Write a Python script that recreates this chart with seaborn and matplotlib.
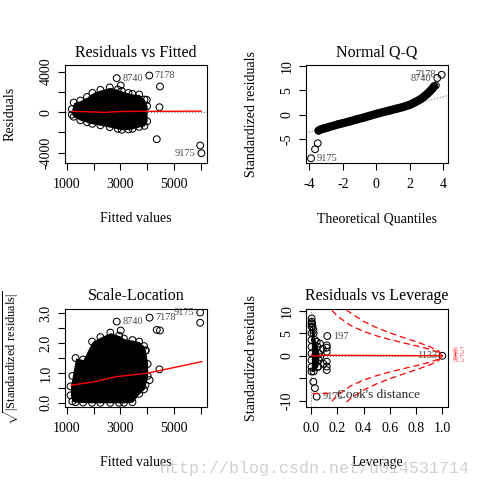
"""
Diagnostic plots of a linear model (lm), redrawn with seaborn.
"""

import matplotlib
matplotlib.use("Agg")
import matplotlib.pyplot as plt
from matplotlib.lines import Line2D
import seaborn as sns

# --- Residuals vs Fitted: dense core (envelope) + single points ---
rf_env_x = [1180, 1250, 1500, 1750, 1950, 2250, 2600, 2900, 3050, 3300, 3450, 3700, 3900, 4000]
rf_env_hi = [300, 950, 1150, 1500, 1900, 2200, 2450, 2250, 2100, 1900, 1800, 1750, 1250, 600]
rf_env_lo = [-250, -450, -800, -1000, -1150, -1300, -1480, -1650, -1740, -1700, -1640, -1450, -1350, -900]
rf_out_x = [2860, 4080, 4480, 3010, 4360, 4460, 3985, 5985, 6030]
rf_out_y = [3360, 3620, 2540, 2640, -2670, 490, 1220, -3290, -4050]
rf_fit_x = [1180, 1600, 2000, 2400, 2800, 3200, 3600, 4000, 6030]
rf_fit_y = [80, 50, 20, -20, 40, 70, 80, 80, 100]
rf_ids = {"8740": (2860, 3360, "r"), "7178": (4080, 3620, "r"), "9175": (6030, -4050, "l")}

# --- Normal Q-Q ---
qq_x = [-3.45, -3.3, -3.1, -2.9, -2.6, -2.3, -2.0, -1.6, -1.2, -0.8, -0.4, 0.0,
        0.4, 0.8, 1.2, 1.6, 2.0, 2.3, 2.6, 2.85, 3.05, 3.2, 3.35, 3.45]
qq_y = [-3.2, -2.95, -2.75, -2.55, -2.25, -1.95, -1.7, -1.35, -0.95, -0.6, -0.2, 0.2,
        0.55, 0.9, 1.25, 1.6, 2.05, 2.55, 3.1, 3.7, 4.3, 4.8, 5.35, 5.8]
qq_out_x = [3.55, 3.64, 3.9, -3.9, -3.66, -3.5]
qq_out_y = [6.0, 7.5, 8.16, -8.84, -7.0, -5.78]
qq_slope, qq_intercept = 0.9, 0.1
qq_ids = {"8740": (3.64, 7.5, "l"), "7178": (3.9, 8.16, "l"), "9175": (-3.9, -8.84, "r")}

# --- Scale-Location ---
sl_env_x = [1130, 1200, 1320, 1600, 1940, 2250, 2620, 2950, 3130, 3450, 3700, 3880, 3940, 4020]
sl_env_hi = [0.55, 0.9, 1.5, 1.45, 2.05, 2.2, 2.35, 2.25, 2.15, 2.1, 2.05, 1.9, 1.75, 1.3]
sl_env_lo = [0.25, 0.05, 0.02, 0.01, 0.0, 0.0, 0.0, 0.0, 0.0, 0.02, 0.3, 0.45, 0.6, 0.9]
sl_out_x = [2860, 4090, 3010, 4360, 4480, 5985, 5985, 4460, 4090, 3950]
sl_out_y = [2.72, 2.85, 2.42, 2.44, 2.42, 3.02, 2.68, 1.12, 0.76, 1.75]
sl_fit_x = [1150, 2000, 2800, 4000, 6050]
sl_fit_y = [0.59, 0.70, 0.87, 0.99, 1.38]
sl_ids = {"8740": (2860, 2.72, "r"), "7178": (4090, 2.85, "r"), "9175": (5985, 3.02, "l")}

# --- Residuals vs Leverage ---
lev_col_y = [-3.5, -2.5, -1.0, 0.5, 2.0, 3.5, 5.0, 6.5, 7.2]
lev_col_lo = [0.004, 0.004, 0.004, 0.004, 0.004, 0.004, 0.004, 0.004, 0.004]
lev_col_hi = [0.02, 0.05, 0.06, 0.06, 0.05, 0.03, 0.02, 0.012, 0.008]
lev_out_x = [0.005, 0.005, 0.018, 0.043, 0.069, 0.124, 0.12, 0.12, 0.12, 0.12, 0.12, 0.12,
             0.094, 0.069, 0.056, 0.09, 0.018, 0.03, 0.043, 1.0]
lev_out_y = [8.3, 7.6, 5.7, 3.1, 2.7, 4.38, 2.3, 1.8, 0.9, -1.3, -2.4, -3.2,
             -1.8, -0.3, -2.4, 1.5, -5.8, -7.2, -9.1, 0.0]
lev_fit_x = [0.0, 0.02, 0.05, 0.1, 0.13, 1.0]
lev_fit_y = [0.2, -0.1, 0.0, 0.1, 0.1, 0.0]
lev_ids = {"197": (0.124, 4.38, "r"), "9175": (0.043, -9.1, "r"), "1133": (1.0, 0.0, "l")}
# Cook's distance contours (0.5 and 1), upper halves; lower halves are mirrored
cook05_h = [0.16, 0.2, 0.3, 0.4, 0.5, 0.6, 0.7, 0.8, 0.9, 0.97, 1.0]
cook05_r = [10.1, 8.83, 6.75, 5.41, 4.42, 3.61, 2.89, 2.21, 1.47, 0.78, 0.0]
cook1_h = [0.27, 0.3, 0.4, 0.5, 0.6, 0.7, 0.8, 0.9, 0.97, 1.0]
cook1_r = [10.27, 9.54, 7.65, 6.24, 5.10, 4.09, 3.12, 2.08, 1.10, 0.0]
cook_tags = [("0.5", 0.9), ("1", 0.4), ("1", -0.4), ("0.5", -0.9)]

W, H = 481, 488
fig = plt.figure(figsize=(W / 100, H / 100), dpi=100)
sns.set_theme(style="ticks")
plt.rcParams["font.family"] = ["Liberation Serif", "DejaVu Serif"]
plt.rcParams["mathtext.fontset"] = "custom"
plt.rcParams["mathtext.rm"] = "Liberation Serif"


def make_ax(left, top):
    ax = fig.add_axes([left / W, 1 - (top + 98) / H, 142 / W, 98 / H])
    ax.set_facecolor("white")
    for s in ax.spines.values():
        s.set_visible(True)
        s.set_color("black")
        s.set_linewidth(0.8)
    ax.tick_params(direction="out", length=5, width=0.8, color="black",
                   labelsize=10, labelcolor="black", pad=6)
    ax.tick_params(axis="y", labelrotation=90, pad=4)
    return ax


def dress(ax, title, xlabel, ylabel, xt, xl, yt, yl, xlim, ylim):
    ax.set_xlim(*xlim)
    ax.set_ylim(*ylim)
    ax.set_xticks(xt, xl)
    ax.set_yticks(yt, yl)
    for lab in ax.get_yticklabels():
        lab.set_va("center")
    ax.set_title(title, fontsize=11.5, y=1 + 12.5 / 98, va="center", pad=0, color="black")
    ax.set_xlabel(xlabel, fontsize=10, color="black")
    ax.set_ylabel(ylabel, fontsize=10, color="black")
    ax.xaxis.set_label_coords(0.5, -0.50)
    ax.yaxis.set_label_coords(-0.34, 0.5)


def circles(ax, x, y):
    sns.scatterplot(x=x, y=y, ax=ax, marker="o", s=24, facecolors="none",
                    edgecolor="black", linewidth=0.75, zorder=3)


def ids(ax, d):
    for name, (x, y, side) in d.items():
        ax.annotate(name, (x, y), xytext=(4 if side == "r" else -4, 0),
                    textcoords="offset points", ha="left" if side == "r" else "right",
                    va="center", fontsize=7.5, color="#4a4a4a", zorder=4)


# Residuals vs Fitted
ax1 = make_ax(65, 65)
ax1.axhline(0, ls=":", color="gray", lw=0.8)
ax1.fill_between(rf_env_x, rf_env_lo, rf_env_hi, color="black", lw=0, zorder=2)
circles(ax1, rf_env_x + rf_env_x + rf_out_x, rf_env_hi + rf_env_lo + rf_out_y)
sns.lineplot(x=rf_fit_x, y=rf_fit_y, ax=ax1, color="red", lw=1, zorder=5)
ids(ax1, rf_ids)
dress(ax1, "Residuals vs Fitted", "Fitted values", "Residuals",
      [1000, 2000, 3000, 4000, 5000, 6000], ["1000", "", "3000", "", "5000", ""],
      [-4000, -2000, 0, 2000, 4000], ["-4000", "", "0", "", "4000"],
      (925, 6240), (-5020, 4660))

# Normal Q-Q
ax2 = make_ax(306, 65)
ax2.axline((0, qq_intercept), slope=qq_slope, ls=":", color="gray", lw=0.8)
sns.lineplot(x=qq_x, y=qq_y, ax=ax2, color="black", lw=6, zorder=2)
circles(ax2, qq_x + qq_out_x, qq_y + qq_out_y)
ids(ax2, qq_ids)
dress(ax2, "Normal Q-Q", "Theoretical Quantiles", "Standardized residuals",
      [-4, -2, 0, 2, 4], ["-4", "-2", "0", "2", "4"],
      [-5, 0, 5, 10], ["-5", "0", "5", "10"],
      (-4.2, 4.28), (-9.8, 10.15))

# Scale-Location
ax3 = make_ax(65, 309)
ax3.fill_between(sl_env_x, sl_env_lo, sl_env_hi, color="black", lw=0, zorder=2)
circles(ax3, sl_env_x + sl_env_x + sl_out_x, sl_env_hi + sl_env_lo + sl_out_y)
sns.lineplot(x=sl_fit_x, y=sl_fit_y, ax=ax3, color="red", lw=1, zorder=5)
ids(ax3, sl_ids)
dress(ax3, "Scale-Location", "Fitted values",
      r"$\sqrt{|\mathrm{Standardized\ residuals}|}$",
      [1000, 2000, 3000, 4000, 5000, 6000], ["1000", "", "3000", "", "5000", ""],
      [0, 0.5, 1, 1.5, 2, 2.5, 3], ["0.0", "", "1.0", "", "2.0", "", "3.0"],
      (925, 6240), (-0.14, 3.14))
ax3.yaxis.label.set_fontsize(8.8)
ax3.yaxis.set_label_coords(-0.31, 0.5)

# Residuals vs Leverage
ax4 = make_ax(306, 309)
ax4.axhline(0, ls=":", color="gray", lw=0.8)
ax4.axvline(0, ls=":", color="gray", lw=0.8)
ax4.fill_betweenx(lev_col_y, lev_col_lo, lev_col_hi, color="black", lw=0, zorder=2)
circles(ax4, lev_col_lo + lev_col_hi + lev_out_x, lev_col_y + lev_col_y + lev_out_y)
sns.lineplot(x=lev_fit_x, y=lev_fit_y, ax=ax4, color="red", lw=1, zorder=5)
for hh, rr in [(cook05_h, cook05_r), (cook1_h, cook1_r)]:
    for sign in (1, -1):
        ax4.plot(hh, [sign * r for r in rr], color="red", ls=(0, (5, 3)), lw=0.9, zorder=4)
for lab, yy in cook_tags:
    ax4.text(1.075, yy, lab, color="red", fontsize=7, va="center", ha="left",
             alpha=0.6, clip_on=False)
ids(ax4, lev_ids)
ax4.legend(handles=[Line2D([], [], color="red", ls=(0, (5, 3)), lw=0.9)],
           labels=["Cook's distance"], loc="lower left", frameon=False,
           fontsize=9.5, handlelength=1.6, handletextpad=0.3, borderaxespad=0.05)
dress(ax4, "Residuals vs Leverage", "Leverage", "Standardized residuals",
      [0, 0.2, 0.4, 0.6, 0.8, 1.0], ["0.0", "0.2", "0.4", "0.6", "0.8", "1.0"],
      [-10, -5, 0, 5, 10], ["-10", "", "0", "5", "10"],
      (-0.038, 1.043), (-11.4, 10.4))

fig.text(315 / W, 1 - 468 / H, "http://blog.csdn.net/u014531714", family="Liberation Mono",
         fontsize=12, color="#c8c8c8", alpha=0.85, ha="center", va="center")

fig.savefig("out.png", dpi=100, facecolor="white")
